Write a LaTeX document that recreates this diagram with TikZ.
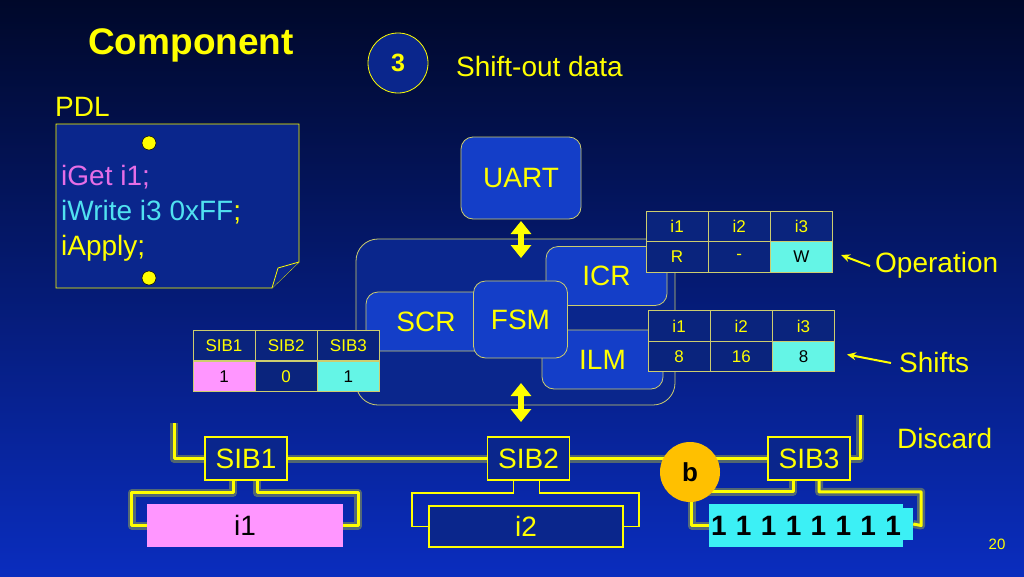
\documentclass[tikz,border=0pt]{standalone}
\usepackage{fontspec}
\setmainfont{Liberation Sans}
\usetikzlibrary{arrows.meta,calc,shapes.geometric}
\definecolor{ylw}{RGB}{255,255,0}
\definecolor{tline}{RGB}{205,205,110}
\definecolor{boxblue}{RGB}{20,62,200}
\definecolor{darkfill}{RGB}{10,38,140}
\definecolor{cellblue}{RGB}{10,36,125}
\definecolor{pinkc}{RGB}{255,150,255}
\definecolor{cyanc}{RGB}{100,245,230}
\definecolor{cyanb}{RGB}{60,240,245}
\definecolor{violetc}{RGB}{230,110,230}
\definecolor{cyantext}{RGB}{80,225,240}
\definecolor{orangec}{RGB}{255,192,0}
\definecolor{bgtop}{RGB}{0,8,42}
\definecolor{bgmid}{RGB}{6,26,115}
\definecolor{bgbot}{RGB}{10,45,190}
\begin{document}
\begin{tikzpicture}[x=1pt,y=-1pt,
  lbl/.style={text=ylw, inner sep=0, font=\fontsize{28}{32}\selectfont},
  comp/.style={draw=tline, line width=0.8pt, fill=boxblue, rounded corners=12pt, inner sep=0, text=ylw, font=\fontsize{28}{32}\selectfont},
  cell/.style={draw=tline, line width=0.8pt, fill=cellblue, minimum width=62.2pt, minimum height=30.5pt, inner sep=0, text=ylw, font=\fontsize{17}{20}\selectfont},
  sibbox/.style={draw=ylw, line width=1.6pt, fill=darkfill, minimum width=82pt, minimum height=43pt, inner sep=0, text=ylw, font=\fontsize{28}{32}\selectfont},
  ibox/.style={minimum width=196pt, minimum height=43pt, inner sep=0, font=\fontsize{28}{32}\selectfont},
  glow/.style={draw=ylw, line width=3pt, line join=round, preaction={draw=ylw, line width=8pt, draw opacity=0.3, line join=round}},
  thinleg/.style={draw=ylw, line width=1.8pt},
  dbl/.style={draw=ylw, line width=6pt, {Triangle[width=20pt,length=13pt]}-{Triangle[width=20pt,length=13pt]}},
  ptr/.style={draw=ylw, line width=2pt, -{Stealth[length=9pt,width=8pt]}},
  dot/.style={circle, fill=ylw, draw=black, line width=0.5pt, minimum size=14pt, inner sep=0}
]
\useasboundingbox (0,0) rectangle (1024,576);
\shade[top color=bgtop, middle color=bgmid, bottom color=bgbot] (0,0) rectangle (1024,576);

% title
\node[text=ylw, inner sep=0, font=\fontsize{37}{40}\selectfont\bfseries] (title) at (191,45) {Component};
\node[circle, draw=ylw, line width=0.8pt, fill=darkfill, minimum size=60pt, inner sep=0, text=ylw, font=\fontsize{25}{28}\selectfont\bfseries] (step3) at (398,63) {3};
\node[lbl, anchor=west] (shift) at (456,66) {Shift-out data};
\node[lbl, anchor=west] (pdl) at (55,107) {PDL};

% PDL note
\draw[draw=ylw, line width=0.8pt, fill=darkfill] (56,124) -- (299,124) -- (299,262) -- (272,288) -- (56,288) -- cycle;
\draw[draw=ylw, line width=0.8pt, fill=darkfill] (272,288) -- (278,268) -- (299,262);
\node[dot] (dtop) at (149,143) {};
\node[dot] (dbot) at (149,278) {};
\node[lbl, anchor=base west, text=violetc] (l1) at (61,185) {iGet i1;};
\node[lbl, anchor=base west, text=cyantext] (l2) at (61,220) {iWrite i3 0xFF\textcolor{ylw}{;}};
\node[lbl, anchor=base west] (l3) at (61,255) {iApply;};

% component
\node[comp, fill=darkfill, rounded corners=22pt, minimum width=319pt, minimum height=166pt] (frame) at (515.5,322) {};
\node[comp, minimum width=121pt, minimum height=59pt] (icr) at (606.5,276) {ICR};
\node[comp, minimum width=121pt, minimum height=59pt] (ilm) at (602.5,359.5) {ILM};
\node[comp, minimum width=120pt, minimum height=59pt] (scr) at (426,321.5) {SCR};
\node[comp, minimum width=94pt, minimum height=77pt] (fsm) at (520.5,319.5) {FSM};
\node[comp, minimum width=120pt, minimum height=82pt] (uart) at (521,178) {UART};

\coordinate (a1) at (521,221);
\coordinate (a2) at (521,258);
\coordinate (a3) at (521,383);
\coordinate (a4) at (521,422);
\draw[dbl] (a1) -- (a2);
\draw[dbl] (a3) -- (a4);

% operation table
\node[cell] (op11) at (677.1,226.5) {i1};
\node[cell] (op12) at (739.3,226.5) {i2};
\node[cell] (op13) at (801.5,226.5) {i3};
\node[cell] (op21) at (677.1,257) {R};
\node[cell] (op22) at (739.3,257) {-};
\node[cell, fill=cyanc, text=black] (op23) at (801.5,257) {W};
\node[lbl, anchor=west] (opl) at (875,265) {Operation};
\draw[ptr] ([xshift=-5pt,yshift=-1pt]opl.west) -- ([xshift=8pt,yshift=2pt]op23.east);

% shifts table
\node[cell] (sh11) at (679.1,326) {i1};
\node[cell] (sh12) at (741.3,326) {i2};
\node[cell] (sh13) at (803.5,326) {i3};
\node[cell] (sh21) at (679.1,356.5) {8};
\node[cell] (sh22) at (741.3,356.5) {16};
\node[cell, fill=cyanc, text=black] (sh23) at (803.5,356.5) {8};
\node[lbl, anchor=west] (shl) at (899,362) {Shifts};
\draw[ptr] ([xshift=-8pt,yshift=-1pt]shl.west) -- ([xshift=12pt,yshift=2pt]sh23.east);

% SIB table
\node[cell] (t11) at (224,345.5) {SIB1};
\node[cell] (t12) at (286.2,345.5) {SIB2};
\node[cell] (t13) at (348.4,345.5) {SIB3};
\node[cell, fill=pinkc, text=black] (t21) at (224,376.5) {1};
\node[cell] (t22) at (286.2,376.5) {0};
\node[cell, fill=cyanc, text=black] (t23) at (348.4,376.5) {1};

% scan chain: coordinates of boxes first (drawn later over line ends)
\node[lbl, anchor=west] (disc) at (897,438) {Discard};
\coordinate (cstart) at (174,423);
\coordinate (cend) at (860,415);
\path node[ibox] (i1) at (245,525.5) {}
      node[ibox, minimum width=194pt, minimum height=41pt] (i2) at (526,526.5) {}
      node[minimum width=10pt, minimum height=32pt, inner sep=0] (tab) at (908,524) {}
      node[ibox, minimum width=194pt] (data) at (806,525.5) {}
      node[sibbox, draw=none, fill=none] (s1) at (246,458.5) {}
      node[sibbox, draw=none, fill=none] (s2) at (528.5,458.5) {}
      node[sibbox, draw=none, fill=none] (s3) at (809,458.5) {};

\draw[glow] (cstart) |- (s1.west);
\draw[glow] (s1.east) -- (s2.west);
\draw[glow] (s2.east) -- (s3.west);
\draw[glow] (s3.east) -| (cend);
\draw[glow] ([xshift=-13pt]s1.south) -- ++(0,12) -| ([xshift=-15pt]i1.west) -- (i1.west);
\draw[glow] ([xshift=11pt]s1.south) -- ++(0,12) -| ([xshift=15pt]i1.east) -- (i1.east);
\draw[thinleg] ([xshift=-15pt]s2.south) -- ++(0,12) -| ([xshift=-17pt]i2.west) -- (i2.west);
\draw[thinleg] ([xshift=11pt]s2.south) -- ++(0,12) -| ([xshift=16pt]i2.east) -- (i2.east);
\draw[glow] ([xshift=-16pt]s3.south) -- ++(0,11) -| ([xshift=-17pt]data.west) -- (data.west);
\draw[glow] ([xshift=10pt]s3.south) -- ++(0,11) -| ([xshift=18pt]data.east) -- (tab.east);

\node[sibbox] (s1b) at (s1) {SIB1};
\node[sibbox] (s2b) at (s2) {SIB2};
\node[sibbox] (s3b) at (s3) {SIB3};
\node[ibox, fill=pinkc, text=black] (i1b) at (i1) {i1};
\node[ibox, draw=ylw, line width=1.6pt, fill=darkfill, minimum width=194pt, minimum height=41pt, text=ylw] (i2b) at (i2) {i2};
\node[fill=cyanb, minimum width=10pt, minimum height=32pt, inner sep=0] (tabb) at (tab) {};
\node[ibox, fill=cyanb, minimum width=194pt, text=black, font=\fontsize{28}{32}\selectfont\bfseries] (datab) at (data) {1\,\,1\,\,1\,\,1\,\,1\,\,1\,\,1\,\,1};

\node[circle, fill=orangec, minimum size=60pt, inner sep=0, text=black, font=\fontsize{26}{28}\selectfont\bfseries] (b) at (690,472) {b};

\node[text=ylw, inner sep=0, font=\fontsize{15}{18}\selectfont] (pg) at (997,544) {20};
\end{tikzpicture}
\end{document}
